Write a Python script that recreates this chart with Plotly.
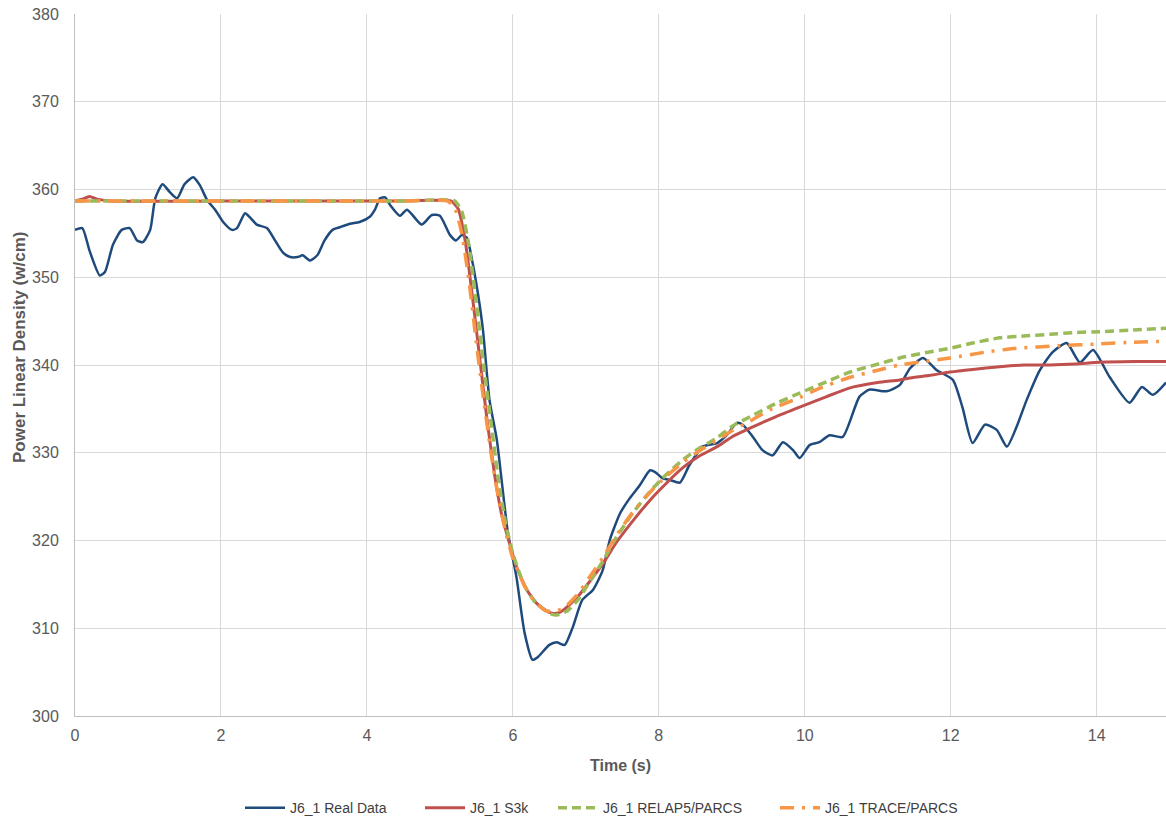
import plotly.graph_objects as go

# ---- data ----
real_t = [0.0, 0.1, 0.2, 0.34, 0.41, 0.52, 0.64, 0.75, 0.85, 0.93, 1.03, 1.1, 1.2, 1.3, 1.4, 1.5, 1.62, 1.71,
          1.81, 1.92, 2.03, 2.15, 2.22, 2.33, 2.4, 2.49, 2.63, 2.74, 2.85, 2.95, 3.05, 3.12, 3.22, 3.32, 3.42,
          3.53, 3.63, 3.77, 3.9, 4.04, 4.11, 4.18, 4.25, 4.32, 4.45, 4.55, 4.75, 4.89, 5.0, 5.14, 5.22, 5.3,
          5.37, 5.44, 5.52, 5.59, 5.68, 5.78, 5.93, 6.05, 6.16, 6.27, 6.34, 6.5, 6.6, 6.71, 6.82, 6.95, 7.1,
          7.23, 7.33, 7.47, 7.6, 7.74, 7.88, 7.95, 8.05, 8.15, 8.29, 8.42, 8.6, 8.8, 8.93, 9.07, 9.15, 9.29,
          9.42, 9.56, 9.7, 9.84, 9.93, 10.07, 10.2, 10.34, 10.52, 10.75, 10.89, 11.12, 11.3, 11.44, 11.62,
          11.81, 12.03, 12.16, 12.3, 12.47, 12.63, 12.77, 12.9, 13.04, 13.22, 13.4, 13.59, 13.77, 13.95,
          14.18, 14.45, 14.62, 14.77, 14.95]
real_y = [355.4, 355.6, 353.0, 350.2, 350.6, 353.7, 355.4, 355.6, 354.2, 354.0, 355.4, 359.0, 360.6, 359.7,
          359.0, 360.6, 361.4, 360.5, 358.8, 357.7, 356.3, 355.4, 355.6, 357.3, 356.8, 356.0, 355.6, 354.2,
          352.8, 352.3, 352.3, 352.5, 351.9, 352.5, 354.2, 355.4, 355.7, 356.1, 356.3, 356.9, 357.7, 359.0,
          359.1, 358.2, 357.0, 357.7, 356.0, 357.1, 357.0, 354.8, 354.2, 354.8, 354.5, 352.0, 348.2, 344.0,
          336.0, 331.5, 321.0, 315.8, 309.5, 306.4, 306.7, 308.1, 308.4, 308.1, 310.1, 313.2, 314.4, 316.6,
          320.1, 323.1, 324.8, 326.3, 328.0, 327.8, 327.1, 326.9, 326.6, 328.6, 330.7, 331.1, 332.0, 333.4,
          333.2, 331.8, 330.3, 329.7, 331.2, 330.3, 329.4, 330.9, 331.2, 332.0, 331.8, 336.4, 337.2, 337.0,
          337.7, 339.6, 340.8, 339.4, 338.3, 335.2, 331.1, 333.2, 332.6, 330.7, 332.9, 336.0, 339.4, 341.5,
          342.5, 340.3, 341.7, 338.6, 335.7, 337.5, 336.6, 338.0]

s3k_t = [0.0, 0.1, 0.2, 0.3, 0.5, 2.5, 4.5, 5.15, 5.25, 5.35, 5.45, 5.55, 5.65, 5.75, 5.85, 5.96, 6.05, 6.19,
         6.33, 6.5, 6.6, 6.68, 6.88, 7.05, 7.23, 7.42, 7.65, 7.88, 8.1, 8.33, 8.55, 8.8, 9.0, 9.25, 9.6, 9.93,
         10.3, 10.62, 11.0, 11.3, 11.5, 11.7, 11.99, 12.3, 12.67, 13.0, 13.36, 13.7, 14.04, 14.5, 14.95]
s3k_y = [358.7, 358.9, 359.2, 358.9, 358.7, 358.7, 358.7, 358.7, 357.8, 354.0, 347.5, 340.5, 333.5, 327.5,
         322.8, 319.5, 317.0, 314.4, 312.8, 311.8, 311.7, 312.0, 313.5, 315.3, 317.3, 319.8, 322.3, 324.6,
         326.5, 328.3, 329.6, 330.7, 331.8, 332.8, 334.1, 335.2, 336.4, 337.4, 338.0, 338.3, 338.6, 338.8,
         339.2, 339.5, 339.8, 340.0, 340.0, 340.1, 340.3, 340.4, 340.4]

relap_t = [0.0, 2.5, 4.5, 5.2, 5.3, 5.4, 5.5, 5.6, 5.7, 5.8, 5.9, 6.0, 6.15, 6.3, 6.5, 6.6, 6.75, 6.9, 7.05,
           7.23, 7.42, 7.65, 7.88, 8.1, 8.33, 8.55, 8.8, 9.0, 9.25, 9.6, 9.93, 10.3, 10.62, 11.0, 11.3, 11.65,
           11.99, 12.3, 12.67, 13.0, 13.36, 13.7, 14.04, 14.5, 14.95]
relap_y = [358.7, 358.7, 358.7, 358.7, 357.5, 353.5, 347.0, 340.0, 333.5, 327.0, 322.0, 318.5, 315.0, 313.0,
           311.7, 311.5, 312.0, 313.3, 315.3, 317.6, 320.4, 323.2, 325.6, 327.5, 329.2, 330.5, 331.7, 333.0,
           334.1, 335.6, 336.8, 338.1, 339.2, 340.1, 340.8, 341.4, 341.9, 342.5, 343.1, 343.3, 343.5, 343.7,
           343.8, 344.0, 344.2]

trace_t = [0.0, 2.5, 4.5, 5.1, 5.2, 5.3, 5.4, 5.5, 5.6, 5.7, 5.8, 5.9, 6.0, 6.15, 6.3, 6.45, 6.55, 6.7, 6.88,
           7.05, 7.23, 7.42, 7.65, 7.88, 8.1, 8.33, 8.55, 8.8, 9.0, 9.25, 9.52, 9.93, 10.16, 10.62, 11.0, 11.3,
           11.99, 12.5, 12.9, 13.5, 14.04, 14.5, 14.95]
trace_y = [358.7, 358.7, 358.7, 358.7, 358.0, 355.0, 349.5, 342.5, 336.0, 330.0, 325.0, 321.0, 318.0, 315.0,
           313.0, 312.0, 311.9, 312.3, 313.8, 315.8, 318.0, 320.6, 323.3, 325.5, 327.3, 328.9, 330.2, 331.4,
           332.5, 333.6, 334.9, 336.3, 337.2, 338.6, 339.4, 340.0, 340.8, 341.5, 341.9, 342.2, 342.4, 342.6,
           342.7]

x_ticks = [0, 2, 4, 6, 8, 10, 12, 14]
y_ticks = [300, 310, 320, 330, 340, 350, 360, 370, 380]

FONT = "Liberation Sans, Arial, sans-serif"
GRAY = "#595959"

fig = go.Figure()
fig.add_trace(go.Scatter(x=real_t, y=real_y, mode="lines", name="J6_1 Real Data", legendwidth=125,
                         line=dict(color="#1F4A7C", width=2.5, shape="spline", smoothing=0.6)))
fig.add_trace(go.Scatter(x=s3k_t, y=s3k_y, mode="lines", name="J6_1 S3k", legendwidth=78,
                         line=dict(color="#C0504D", width=3, shape="spline", smoothing=0.5)))
fig.add_trace(go.Scatter(x=relap_t, y=relap_y, mode="lines", name="J6_1 RELAP5/PARCS", legendwidth=167,
                         line=dict(color="#9BBB59", width=3.5, dash="9px,5px", shape="spline", smoothing=0.5)))
fig.add_trace(go.Scatter(x=trace_t, y=trace_y, mode="lines", name="J6_1 TRACE/PARCS", legendwidth=165,
                         line=dict(color="#F79646", width=3.5, dash="14px,8px,3px,8px", shape="spline", smoothing=0.5)))

fig.update_layout(
    width=1166, height=823,
    margin=dict(l=75, r=0, t=14, b=107),
    paper_bgcolor="white", plot_bgcolor="white",
    font=dict(family=FONT, color=GRAY, size=14),
    showlegend=True,
    legend=dict(orientation="h", xref="container", yref="container", x=240 / 1166, y=0.018,
                xanchor="left", yanchor="middle", font=dict(size=14, color="#404040", family=FONT),
                itemwidth=40, tracegroupgap=0),
    xaxis=dict(range=[0, 14.95], tickvals=x_ticks, showgrid=True, gridcolor="#D9D9D9", gridwidth=1,
               zeroline=False, showline=True, linecolor="#BFBFBF", linewidth=1,
               ticks="", ticklabelstandoff=5, tickfont=dict(size=16, color=GRAY),
               title=dict(text="<b>Time (s)</b>", font=dict(size=16, color=GRAY), standoff=16)),
    yaxis=dict(range=[300, 380], tickvals=y_ticks, showgrid=True, gridcolor="#D9D9D9", gridwidth=1,
               zeroline=False, showline=True, linecolor="#BFBFBF", linewidth=1,
               ticks="", ticklabelstandoff=12, tickfont=dict(size=16, color=GRAY)),
    annotations=[dict(text="<b>Power Linear Density (w/cm)</b>", xref="paper", yref="paper",
                      x=(19 - 75) / 1091, y=(716 - 348) / 702, xanchor="center", yanchor="middle",
                      textangle=-90, showarrow=False, font=dict(size=17, color=GRAY, family=FONT))],
)

fig.write_html("out.html")
